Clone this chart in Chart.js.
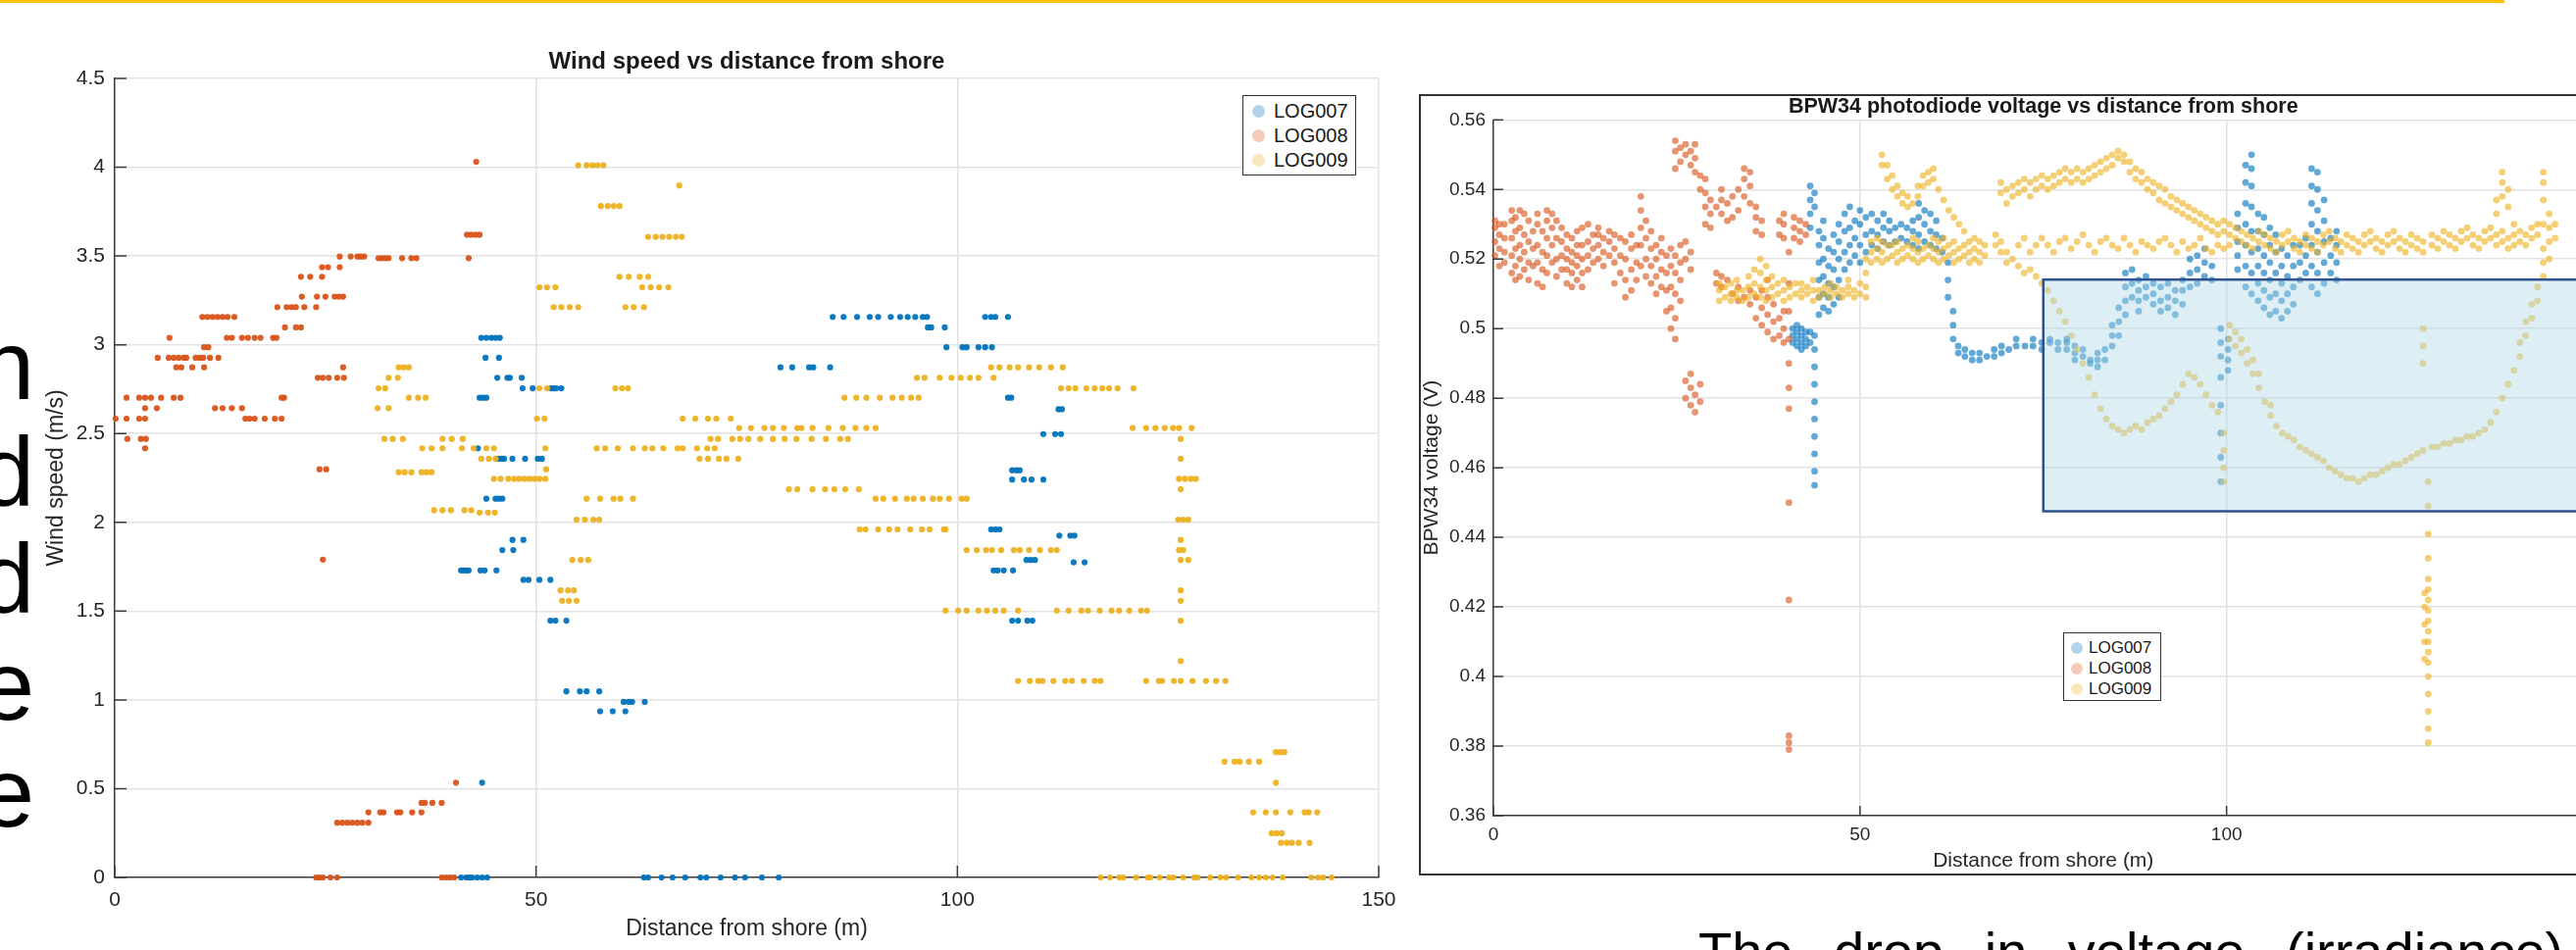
<!DOCTYPE html>
<html>
<head>
<meta charset="utf-8">
<script src="https://cdn.jsdelivr.net/npm/chart.js@4.4.1/dist/chart.umd.min.js"></script>
<style>
    body {
        margin: 0;
        width: 2627px;
        height: 969px;
        overflow: hidden;
        background: #fff;
        position: relative;
        font-family: 'Liberation Sans', Arial, sans-serif;
    }
    #topRule { position: absolute; left: 0; top: 0; width: 2554px; height: 2.5px; background: #ffc000; }
    #sideText {
        position: absolute; left: -165px; top: 318px; width: 200px;
        text-align: right; font-size: 100px; line-height: 109px; color: #000;
    }
    #windChart { position: absolute; left: 0; top: 0; }
    #voltFrame {
        position: absolute; left: 1447px; top: 96px; width: 1300px; height: 793px;
        border: 2px solid #333; border-right: none;
    }
    #voltChart { position: absolute; left: 1449px; top: 98px; }
    .legend {
        position: absolute; background: #fff; border: 1.5px solid #333; box-sizing: border-box;
        color: #1a1a1a;
    }
    .legend .row { display: flex; align-items: center; white-space: nowrap; }
    .legend .dot { display: inline-block; border-radius: 50%; }
    #windLegend { left: 1267px; top: 97px; width: 116px; height: 82px; padding-top: 3px; font-size: 20px; }
    #windLegend .row { height: 25px; }
    #windLegend .dot { width: 13px; height: 13px; margin: 0 9px 0 9px; }
    #voltLegend { left: 2104px; top: 645px; width: 100px; height: 70px; padding-top: 4px; font-size: 17px; }
    #voltLegend .row { height: 21px; }
    #voltLegend .dot { width: 12px; height: 12px; margin: 0 6px 0 7px; }
    #caption {
        position: absolute; left: 1732px; top: 943px; font-size: 56px; line-height: 56px;
        word-spacing: 26px; white-space: nowrap; color: #000;
    }
</style>
</head>
<body>
<div id="topRule"></div>
<div id="sideText">n<br>d<br>d<br>e<br>e</div>
<canvas id="windChart" width="1440" height="969"></canvas>
<div id="voltFrame"></div>
<canvas id="voltChart" width="1231" height="792"></canvas>
<div class="legend" id="windLegend"></div>
<div class="legend" id="voltLegend"></div>
<div id="caption">The drop in voltage (irradiance)</div>

<script>
const seriesNames = ['LOG007', 'LOG008', 'LOG009'];
const seriesRgb = ['0, 114, 189', '217, 83, 25', '237, 177, 32'];

const xTicks = [0, 50, 100, 150];
const windTicks = [0, 0.5, 1, 1.5, 2, 2.5, 3, 3.5, 4, 4.5];
const voltTicks = [0.36, 0.38, 0.4, 0.42, 0.44, 0.46, 0.48, 0.5, 0.52, 0.54, 0.56];

// Wind speed: [speed, [distances...]] (speeds are quantised by the logger)
const windLog007 = [
    [3.039, [43.5, 44.1, 44.7, 45.2, 45.7]],
    [2.927, [44.0, 45.6]],
    [2.814, [45.4, 46.6, 46.9, 48.3]],
    [2.755, [48.4, 49.6, 51.8, 52.1, 52.4, 53.0]],
    [2.702, [43.3, 43.7, 44.1, 106.0, 106.4]],
    [2.417, [43.1]],
    [2.358, [45.5, 45.9, 46.2, 47.2, 48.7, 50.2, 50.7]],
    [2.133, [44.1, 45.2, 45.6, 46.0]],
    [1.901, [47.2, 48.5]],
    [1.844, [46.0, 47.3]],
    [1.729, [41.1, 41.4, 41.7, 42.0, 43.4, 43.9, 45.3, 104.3, 104.8, 105.5, 106.6]],
    [1.676, [48.5, 49.1, 50.4, 51.7]],
    [1.446, [51.7, 52.3, 53.6, 106.5, 107.2, 108.3, 108.9]],
    [1.048, [53.6, 55.2, 56.0, 57.5]],
    [0.989, [60.4, 61.0, 61.4, 62.9]],
    [0.936, [57.6, 59.1, 60.6]],
    [0.534, [43.6]],
    [0, [41.1, 41.7, 42.1, 42.4, 43.0, 43.6, 44.2, 62.8, 63.3, 64.9, 66.2, 67.7, 69.5, 70.2, 71.9, 73.6, 74.8, 76.8, 78.8]],
    [3.157, [85.2, 86.5, 88.1, 89.6, 90.6, 92.1, 93.2, 94.1, 95.0, 95.9, 96.4, 103.3, 104.0, 104.5, 106.0]],
    [3.098, [96.5, 96.9, 98.5]],
    [2.986, [98.7, 100.6, 101.1, 102.5, 103.3, 104.1]],
    [2.873, [79.0, 80.4, 82.4, 82.9, 84.9]],
    [2.637, [112.0, 112.4]],
    [2.497, [110.2, 111.6, 112.3]],
    [2.293, [106.5, 107.0, 107.4]],
    [2.241, [106.5, 107.9, 108.8, 110.2]],
    [1.960, [104.0, 104.5, 105.0]],
    [1.925, [112.1, 113.4, 113.9]],
    [1.788, [108.2, 108.7, 109.2]],
    [1.775, [113.8, 115.1]]
];

const windLog008 = [
    [4.030, [42.9]],
    [3.620, [41.8, 42.3, 42.8, 43.3]],
    [3.497, [26.7, 28.0, 28.8, 29.2, 29.6]],
    [3.488, [31.3, 31.7, 32.1, 32.5, 34.1, 35.2, 35.8, 42.0]],
    [3.437, [24.6, 25.3, 26.7]],
    [3.383, [22.1, 23.2, 24.6]],
    [3.271, [22.2, 24.0, 25.0, 26.1, 26.6, 27.1]],
    [3.212, [19.3, 20.4, 21.0, 21.5, 22.5, 23.9]],
    [3.157, [10.4, 11.0, 11.6, 12.2, 12.8, 13.4, 14.2]],
    [3.098, [20.2, 21.5, 22.1]],
    [3.039, [6.5, 13.3, 13.9, 15.1, 15.8, 16.6, 17.3, 18.8, 19.2]],
    [2.986, [10.6, 11.1]],
    [2.927, [5.1, 6.4, 7.0, 7.6, 8.2, 8.5, 9.6, 10.1, 10.5, 11.3, 12.3]],
    [2.873, [7.3, 7.9, 9.2, 10.6, 27.1]],
    [2.814, [24.1, 24.7, 25.4, 26.4, 27.2]],
    [2.702, [1.4, 2.9, 3.6, 4.3, 5.5, 7.0, 7.8, 19.8, 20.1]],
    [2.643, [3.6, 5.0, 11.9, 12.8, 13.9, 15.1]],
    [2.584, [0.1, 1.4, 2.9, 3.6, 15.5, 16.0, 16.6, 17.8, 19.0, 19.8]],
    [2.470, [1.5, 3.1, 3.7]],
    [2.417, [3.6]],
    [2.299, [24.3, 25.1]],
    [1.790, [24.7]],
    [0.534, [40.5]],
    [0.420, [36.4, 36.8, 37.7, 38.8]],
    [0.367, [30.1, 31.5, 31.9, 33.5, 33.9, 35.3, 36.4]],
    [0.308, [26.4, 27.0, 27.6, 28.2, 28.8, 29.4, 30.1]],
    [0, [23.9, 24.3, 24.7, 25.6, 26.4, 38.8, 39.3, 39.8, 40.3]]
];

const windLog009 = [
    [4.011, [55.0, 56.0, 56.7, 57.3, 58.0]],
    [3.897, [67.0]],
    [3.781, [57.7, 58.5, 59.2, 59.9]],
    [3.608, [63.3, 64.2, 65.0, 65.8, 66.6, 67.3]],
    [3.383, [59.9, 61.0, 62.3, 63.3]],
    [3.324, [50.4, 51.3, 52.3, 62.6, 63.6, 64.6, 65.7]],
    [3.212, [52.1, 53.0, 54.0, 55.0, 60.6, 61.6, 62.8]],
    [2.873, [33.7, 34.3, 34.9, 104.0, 105.0, 106.2, 107.2, 108.5, 109.7, 111.1, 112.5]],
    [2.814, [32.5, 33.6, 95.2, 96.1, 97.9, 99.3, 100.4, 101.5, 102.5, 104.3]],
    [2.755, [31.3, 32.1, 50.4, 51.3, 59.4, 60.2, 60.9, 112.3, 113.2, 114.0, 115.3, 116.3, 117.2, 118.0, 119.0, 120.9]],
    [2.702, [34.9, 36.0, 36.9, 86.6, 88.0, 89.2, 90.8, 92.3, 93.4, 94.5, 95.4]],
    [2.643, [31.2, 32.5]],
    [2.584, [50.1, 51.0, 67.4, 68.9, 70.4, 71.4, 73.1]],
    [2.531, [74.1, 75.5, 77.1, 78.1, 79.4, 81.0, 81.5, 82.8, 84.7, 86.4, 87.9, 89.2, 90.3, 120.8, 122.4, 123.5, 124.6, 125.6, 126.3, 127.8]],
    [2.470, [32.0, 33.0, 34.2, 38.9, 40.0, 41.3, 70.7, 71.6, 73.3, 74.2, 75.2, 76.6, 78.1, 79.5, 80.9, 82.7, 84.4, 86.1, 87.0, 126.5]],
    [2.417, [36.5, 37.6, 38.9, 41.2, 42.6, 44.1, 45.0, 51.1, 57.2, 58.2, 59.7, 61.5, 62.9, 63.8, 65.1, 66.8, 67.4, 69.1, 70.3, 71.2]],
    [2.358, [43.5, 44.4, 45.2, 69.4, 70.4, 71.7, 72.6, 74.0, 126.5]],
    [2.299, [51.2]],
    [2.282, [33.7, 34.4, 35.2, 36.4, 37.0, 37.6]],
    [2.245, [45.0, 45.8, 46.7, 47.4, 48.0, 48.6, 49.2, 49.8, 50.4, 51.1, 126.3, 127.0, 127.7, 128.3]],
    [2.186, [80.0, 81.0, 82.8, 84.3, 85.4, 86.7, 88.3, 126.5]],
    [2.133, [56.0, 57.6, 59.2, 60.0, 61.5, 90.3, 91.2, 92.6, 94.0, 94.8, 95.9, 97.1, 97.9, 99.0, 100.5, 101.1]],
    [2.068, [37.9, 38.9, 39.9, 41.5, 42.3]],
    [2.055, [43.3, 44.3, 45.1]],
    [2.015, [54.8, 55.8, 56.8, 57.5, 126.2, 126.8, 127.4]],
    [1.960, [88.4, 89.1, 90.6, 91.9, 92.9, 94.4, 95.8, 96.7, 98.4, 98.6]],
    [1.901, [126.5]],
    [1.844, [101.1, 102.3, 103.4, 104.1, 105.2, 106.7, 107.4, 108.5, 109.8, 111.1, 111.8, 126.3, 126.8]],
    [1.788, [54.3, 55.3, 56.2, 126.5, 127.4]],
    [1.617, [52.9, 53.8, 54.5, 126.5]],
    [1.558, [53.1, 53.9, 54.8, 126.5]],
    [1.503, [98.6, 100.1, 101.1, 102.5, 103.5, 104.5, 105.5, 107.2, 111.8, 113.2, 114.7, 115.5, 116.9, 118.3, 119.2, 120.4, 121.8, 122.5]],
    [1.446, [126.5]],
    [1.219, [126.5]],
    [1.107, [107.2, 108.6, 109.6, 110.1, 111.4, 112.8, 113.6, 115.0, 116.3, 117.0, 122.4, 123.9, 124.3, 125.7, 126.5, 127.9, 129.5, 130.7, 131.8]],
    [0.706, [137.8, 138.3, 138.8]],
    [0.652, [131.7, 132.9, 133.5, 134.6, 135.8]],
    [0.534, [137.8]],
    [0.367, [135.1, 136.6, 137.8, 139.5, 141.2, 141.7, 142.7]],
    [0.249, [137.3, 137.9, 138.5]],
    [0.195, [138.4, 139.1, 139.7, 140.5, 141.8]],
    [0, [117.0, 118.1, 119.2, 119.7, 121.2, 122.6, 122.9, 124.0, 125.1, 125.6, 126.8, 128.1, 128.5, 130.0, 131.2, 131.9, 133.3, 134.9, 135.8, 136.6, 137.4, 138.6, 142.0, 142.8, 143.4, 144.4]]
];

// Photodiode voltage: [distance, [voltages...]]
const voltLog007 = [
    [40.8, [0.496, 0.498, 0.500]], [41.4, [0.495, 0.497, 0.499, 0.501]], [42.0, [0.494, 0.496, 0.498, 0.500]],
    [42.6, [0.495, 0.497, 0.499]], [43.2, [0.496, 0.499, 0.529, 0.533, 0.537, 0.541]],
    [43.8, [0.455, 0.459, 0.464, 0.469, 0.474, 0.479, 0.484, 0.489, 0.494, 0.498, 0.535, 0.539]],
    [44.4, [0.504, 0.509, 0.514, 0.519, 0.524, 0.528]], [45.0, [0.506, 0.510, 0.515, 0.520, 0.526, 0.531]],
    [45.7, [0.505, 0.509, 0.513, 0.518, 0.523]], [46.4, [0.507, 0.512, 0.517, 0.522, 0.527]],
    [47.1, [0.509, 0.514, 0.520, 0.525, 0.530]], [47.9, [0.517, 0.522, 0.528, 0.533]],
    [48.6, [0.519, 0.524, 0.529, 0.535]], [49.3, [0.521, 0.526, 0.531]], [50.0, [0.519, 0.524, 0.530, 0.534]],
    [50.8, [0.522, 0.527, 0.532]], [51.6, [0.524, 0.528, 0.533]], [52.4, [0.523, 0.527, 0.531]],
    [53.2, [0.525, 0.529, 0.533]], [54.0, [0.524, 0.528, 0.531]], [54.8, [0.525, 0.529]],
    [55.6, [0.526, 0.530]], [56.4, [0.525, 0.529]], [57.2, [0.524, 0.528, 0.531]],
    [58.0, [0.523, 0.527, 0.532, 0.536]], [58.8, [0.525, 0.530, 0.534]], [59.6, [0.524, 0.528, 0.533]],
    [60.4, [0.523, 0.527, 0.531]], [61.2, [0.522, 0.526]], [62.0, [0.509, 0.514, 0.519]],
    [62.7, [0.497, 0.501, 0.505]], [63.4, [0.493, 0.495]], [64.3, [0.492, 0.494]], [65.3, [0.491, 0.493]],
    [66.3, [0.491, 0.493]], [67.3, [0.492]], [68.3, [0.492, 0.494]], [69.3, [0.493, 0.495]], [70.3, [0.494]],
    [71.3, [0.495, 0.497]], [72.5, [0.495]], [73.6, [0.495, 0.497]], [74.8, [0.494, 0.496]],
    [75.9, [0.496, 0.497]], [77.0, [0.494, 0.496]], [78.2, [0.494, 0.496, 0.497]], [79.3, [0.491, 0.493, 0.495]],
    [80.4, [0.492, 0.494]], [81.4, [0.490, 0.491]], [82.4, [0.489, 0.491, 0.493]], [83.4, [0.491, 0.494]],
    [84.4, [0.495, 0.498, 0.501]], [85.3, [0.498, 0.502, 0.506]], [86.2, [0.504, 0.508, 0.512, 0.516]],
    [87.1, [0.509, 0.513, 0.517]], [88.0, [0.505, 0.508, 0.511, 0.514]], [89.0, [0.509, 0.512, 0.515]],
    [90.0, [0.507, 0.510, 0.513]], [91.0, [0.505, 0.508, 0.512]], [92.0, [0.506, 0.509, 0.513]],
    [93.0, [0.504, 0.508, 0.511]], [94.0, [0.507, 0.511, 0.514]], [95.0, [0.512, 0.516, 0.520]],
    [96.0, [0.513, 0.517, 0.521]], [97.0, [0.515, 0.519, 0.523]], [98.0, [0.514, 0.518]],
    [99.2, [0.456, 0.463, 0.470, 0.478, 0.486, 0.492, 0.496, 0.500]], [100.2, [0.488, 0.491, 0.494, 0.497]],
    [101.5, [0.517, 0.521, 0.525, 0.529, 0.533]], [102.6, [0.512, 0.518, 0.524, 0.530, 0.536, 0.542, 0.547]],
    [103.4, [0.510, 0.516, 0.522, 0.528, 0.535, 0.541, 0.546, 0.550]], [104.3, [0.508, 0.513, 0.518, 0.523, 0.528, 0.533]],
    [105.1, [0.506, 0.511, 0.516, 0.521, 0.527, 0.532]], [105.9, [0.504, 0.509, 0.514, 0.519, 0.524, 0.529]],
    [106.7, [0.505, 0.510, 0.516, 0.522, 0.527]], [107.5, [0.503, 0.508, 0.513, 0.518, 0.523]],
    [108.3, [0.505, 0.510, 0.515, 0.521]], [109.1, [0.507, 0.512, 0.518, 0.524]], [110.0, [0.514, 0.519, 0.524]],
    [110.8, [0.516, 0.521, 0.526]], [111.6, [0.512, 0.518, 0.524, 0.530, 0.536, 0.541, 0.546]],
    [112.4, [0.510, 0.516, 0.522, 0.528, 0.534, 0.540, 0.545]], [113.3, [0.513, 0.519, 0.525, 0.531, 0.537]],
    [114.2, [0.516, 0.521, 0.526]], [115.0, [0.514, 0.519, 0.524, 0.528]]
];

const voltLog008 = [
    [0.2, [0.521, 0.525, 0.529, 0.531]], [0.8, [0.518, 0.523, 0.527, 0.530]], [1.5, [0.519, 0.522, 0.526, 0.530]],
    [2.5, [0.516, 0.521, 0.526, 0.531, 0.534]], [3.0, [0.514, 0.518, 0.523, 0.528, 0.532]],
    [3.6, [0.515, 0.520, 0.524, 0.529, 0.534]], [4.2, [0.517, 0.522, 0.527, 0.533]], [4.8, [0.514, 0.519, 0.525, 0.531]],
    [5.4, [0.518, 0.523, 0.528]], [6.0, [0.513, 0.519, 0.524, 0.530, 0.533]], [6.7, [0.512, 0.517, 0.522, 0.528]],
    [7.3, [0.516, 0.521, 0.526, 0.531, 0.534]], [8.0, [0.519, 0.524, 0.529, 0.533]], [8.6, [0.515, 0.520, 0.526, 0.531]],
    [9.3, [0.517, 0.521, 0.525, 0.529]], [10.0, [0.513, 0.517, 0.520, 0.523, 0.527]],
    [10.7, [0.512, 0.516, 0.519, 0.522, 0.526]], [11.4, [0.514, 0.518, 0.521, 0.524, 0.528]],
    [12.1, [0.512, 0.516, 0.520, 0.524, 0.529]], [12.9, [0.517, 0.521, 0.525, 0.530]], [13.6, [0.519, 0.523, 0.527]],
    [14.3, [0.520, 0.524, 0.527, 0.529]], [15.0, [0.518, 0.522, 0.526]], [15.8, [0.521, 0.525, 0.528]],
    [16.5, [0.513, 0.519, 0.523, 0.527]], [17.3, [0.516, 0.521, 0.526]], [18.0, [0.509, 0.514, 0.520, 0.525]],
    [18.8, [0.511, 0.517, 0.523, 0.527]], [19.5, [0.514, 0.519, 0.524]], [20.1, [0.518, 0.524, 0.529, 0.534, 0.538]],
    [20.8, [0.515, 0.520, 0.526, 0.531]], [21.5, [0.513, 0.518, 0.523, 0.528]], [22.2, [0.510, 0.515, 0.520, 0.524]],
    [22.9, [0.512, 0.517, 0.522, 0.526]], [23.6, [0.505, 0.511, 0.516, 0.521]],
    [24.2, [0.500, 0.506, 0.512, 0.518, 0.523]], [24.8, [0.497, 0.503, 0.510, 0.516, 0.521, 0.546, 0.551, 0.554]],
    [25.5, [0.508, 0.514, 0.519, 0.524, 0.548, 0.552]], [26.2, [0.480, 0.485, 0.520, 0.525, 0.550, 0.553]],
    [26.9, [0.478, 0.483, 0.487, 0.517, 0.522, 0.547, 0.551]], [27.5, [0.476, 0.481, 0.545, 0.549, 0.553]],
    [28.2, [0.479, 0.484, 0.540, 0.544]], [28.9, [0.530, 0.535, 0.539, 0.543]], [29.6, [0.529, 0.533, 0.537]],
    [30.4, [0.513, 0.516, 0.535]], [31.1, [0.512, 0.515, 0.533, 0.537, 0.540]], [31.9, [0.514, 0.531, 0.536]],
    [32.6, [0.510, 0.532, 0.538]], [33.4, [0.508, 0.512, 0.534, 0.540]], [34.2, [0.509, 0.538, 0.543, 0.546]],
    [35.0, [0.507, 0.511, 0.536, 0.541, 0.545]], [35.8, [0.503, 0.509, 0.528, 0.532, 0.535]],
    [36.6, [0.501, 0.506, 0.511, 0.527, 0.531]], [37.4, [0.499, 0.504, 0.509, 0.514]], [38.2, [0.497, 0.502, 0.507]],
    [39.0, [0.498, 0.503, 0.527, 0.531]], [39.6, [0.496, 0.500, 0.505, 0.526, 0.530, 0.533]],
    [40.3, [0.379, 0.381, 0.383, 0.422, 0.450, 0.477, 0.483, 0.490, 0.497, 0.505, 0.513, 0.522]],
    [41.0, [0.526, 0.529, 0.532]], [41.8, [0.525, 0.528, 0.531]], [42.6, [0.527, 0.530]]
];

const voltLog009 = [
    [30.8, [0.508, 0.511, 0.513]], [31.6, [0.509, 0.512]], [32.4, [0.508, 0.510, 0.513]], [33.2, [0.509, 0.511, 0.514]],
    [34.0, [0.508, 0.511]], [34.8, [0.509, 0.512, 0.515]], [35.6, [0.510, 0.513, 0.517]], [36.4, [0.509, 0.512, 0.516, 0.520]],
    [37.2, [0.508, 0.511, 0.514, 0.518]], [38.0, [0.509, 0.512, 0.515]], [38.8, [0.510, 0.513]], [39.6, [0.508, 0.511, 0.514]],
    [40.4, [0.509, 0.512]], [41.2, [0.510, 0.513]], [42.0, [0.509, 0.511, 0.513]], [42.8, [0.510, 0.512]],
    [43.6, [0.508, 0.511, 0.514]], [44.4, [0.509, 0.511]], [45.2, [0.510, 0.512]], [46.0, [0.509, 0.511, 0.513]],
    [46.8, [0.510, 0.512]], [47.6, [0.509, 0.511]], [48.4, [0.510, 0.512, 0.514]], [49.2, [0.509, 0.511]],
    [50.0, [0.510, 0.513]], [50.8, [0.509, 0.512, 0.516, 0.520]], [51.5, [0.519, 0.522, 0.525]],
    [52.3, [0.520, 0.523, 0.526]], [53.0, [0.519, 0.522, 0.525, 0.547, 0.550]], [53.7, [0.520, 0.524, 0.543, 0.547]],
    [54.4, [0.521, 0.524, 0.540, 0.544]], [55.1, [0.519, 0.522, 0.525, 0.538, 0.541]], [55.8, [0.520, 0.523, 0.536, 0.539]],
    [56.5, [0.521, 0.524, 0.535, 0.538]], [57.2, [0.520, 0.523, 0.526, 0.536]], [57.9, [0.519, 0.522, 0.525, 0.538, 0.541]],
    [58.6, [0.520, 0.523, 0.541, 0.544]], [59.3, [0.521, 0.524, 0.542, 0.545]], [60.0, [0.520, 0.523, 0.526, 0.543, 0.546]],
    [60.7, [0.519, 0.522, 0.525, 0.540]], [61.4, [0.520, 0.523, 0.526, 0.537]], [62.1, [0.521, 0.524, 0.534]],
    [62.8, [0.519, 0.522, 0.525, 0.532]], [63.5, [0.520, 0.523, 0.530]], [64.2, [0.521, 0.524, 0.528]],
    [64.9, [0.519, 0.522, 0.525]], [65.6, [0.520, 0.523, 0.526]], [66.3, [0.519, 0.522, 0.525]], [67.0, [0.521, 0.524]],
    [68.5, [0.524, 0.527]], [69.2, [0.522, 0.525, 0.539, 0.542]], [70.0, [0.519, 0.522, 0.536, 0.540]],
    [70.8, [0.520, 0.538, 0.541]], [71.6, [0.518, 0.524, 0.539, 0.542]], [72.4, [0.516, 0.526, 0.540, 0.543]],
    [73.2, [0.517, 0.522, 0.538, 0.542]], [74.0, [0.515, 0.524, 0.540, 0.543]], [74.8, [0.513, 0.526, 0.541, 0.544]],
    [75.6, [0.511, 0.524, 0.540, 0.543]], [76.4, [0.508, 0.522, 0.541, 0.544]], [77.2, [0.505, 0.525, 0.542, 0.545]],
    [78.0, [0.502, 0.526, 0.543, 0.546]], [78.8, [0.498, 0.523, 0.542, 0.545]], [79.6, [0.494, 0.525, 0.543, 0.546]],
    [80.4, [0.490, 0.527, 0.542, 0.545]], [81.2, [0.486, 0.524, 0.543, 0.546]], [82.0, [0.481, 0.522, 0.544, 0.547]],
    [82.8, [0.477, 0.525, 0.545, 0.548]], [83.6, [0.474, 0.526, 0.546, 0.549]], [84.4, [0.472, 0.524, 0.547, 0.550]],
    [85.2, [0.471, 0.523, 0.549, 0.551]], [86.0, [0.470, 0.526, 0.548, 0.550]], [86.8, [0.471, 0.524, 0.545, 0.548]],
    [87.6, [0.472, 0.522, 0.543, 0.546]], [88.4, [0.471, 0.525, 0.542, 0.545]], [89.2, [0.473, 0.524, 0.540, 0.543]],
    [90.0, [0.474, 0.523, 0.539, 0.542]], [90.8, [0.475, 0.525, 0.537, 0.541]], [91.6, [0.477, 0.526, 0.536, 0.540]],
    [92.4, [0.479, 0.524, 0.535, 0.538]], [93.2, [0.481, 0.522, 0.534, 0.537]], [94.0, [0.484, 0.525, 0.533, 0.536]],
    [94.8, [0.487, 0.523, 0.532, 0.535]], [95.6, [0.486, 0.524, 0.531, 0.534]], [96.4, [0.484, 0.526, 0.530, 0.533]],
    [97.2, [0.481, 0.523, 0.529, 0.532]], [98.0, [0.478, 0.522, 0.528, 0.531]], [98.8, [0.476, 0.524, 0.527, 0.530]],
    [99.6, [0.456, 0.460, 0.465, 0.470, 0.523, 0.528, 0.531]], [100.4, [0.497, 0.501, 0.524, 0.527, 0.530]],
    [101.2, [0.495, 0.499, 0.526, 0.529]], [102.0, [0.493, 0.497, 0.525, 0.528]], [102.8, [0.490, 0.494, 0.524, 0.527]],
    [103.6, [0.487, 0.491, 0.523, 0.526]], [104.4, [0.483, 0.487, 0.525, 0.528]], [105.2, [0.479, 0.524, 0.527]],
    [106.0, [0.475, 0.478, 0.523, 0.526]], [106.8, [0.472, 0.522, 0.525]], [107.6, [0.470, 0.524, 0.527]],
    [108.4, [0.469, 0.525, 0.528]], [109.2, [0.468, 0.523, 0.526]], [110.0, [0.466, 0.522, 0.525]],
    [110.8, [0.465, 0.524, 0.527]], [111.6, [0.464, 0.523, 0.526]], [112.4, [0.463, 0.522, 0.525]],
    [113.2, [0.462, 0.524, 0.527]], [114.0, [0.460, 0.525, 0.528]], [114.8, [0.459, 0.523, 0.526]],
    [115.6, [0.458, 0.522, 0.525]], [116.4, [0.457, 0.524, 0.527]], [117.2, [0.457, 0.523, 0.526]],
    [118.0, [0.456, 0.522, 0.525]], [118.8, [0.457, 0.524, 0.527]], [119.6, [0.458, 0.525, 0.528]],
    [120.4, [0.458, 0.523, 0.526]], [121.2, [0.459, 0.522, 0.525]], [122.0, [0.460, 0.524, 0.527]],
    [122.8, [0.461, 0.525, 0.528]], [123.6, [0.461, 0.523, 0.526]], [124.4, [0.462, 0.522, 0.525]],
    [125.2, [0.463, 0.524, 0.527]], [126.0, [0.464, 0.523, 0.526]], [126.8, [0.465, 0.490, 0.495, 0.500, 0.522, 0.525]],
    [127.0, [0.405, 0.410, 0.415, 0.420, 0.424]],
    [127.5, [0.381, 0.385, 0.390, 0.395, 0.400, 0.404, 0.407, 0.410, 0.413, 0.416, 0.419, 0.422, 0.425, 0.428, 0.434, 0.441, 0.449, 0.456]],
    [128.0, [0.466, 0.524, 0.527]], [128.8, [0.466, 0.523, 0.526]], [129.6, [0.467, 0.525, 0.528]],
    [130.4, [0.467, 0.524, 0.527]], [131.2, [0.468, 0.523, 0.526]], [132.0, [0.468, 0.525, 0.528]],
    [132.8, [0.469, 0.526, 0.529]], [133.6, [0.469, 0.524, 0.527]], [134.4, [0.470, 0.523, 0.526]],
    [135.2, [0.471, 0.525, 0.528]], [136.0, [0.473, 0.526, 0.529]], [136.8, [0.476, 0.524, 0.527, 0.533, 0.537]],
    [137.6, [0.480, 0.525, 0.528, 0.538, 0.542, 0.545]], [138.4, [0.484, 0.523, 0.526, 0.535, 0.540]],
    [139.2, [0.488, 0.524, 0.527, 0.530]], [140.0, [0.492, 0.496, 0.525, 0.528]], [140.8, [0.498, 0.502, 0.524, 0.527]],
    [141.6, [0.503, 0.507, 0.526, 0.529]], [142.4, [0.508, 0.512, 0.527, 0.530]],
    [143.2, [0.515, 0.519, 0.523, 0.530, 0.537, 0.542, 0.545]], [144.0, [0.520, 0.525, 0.529, 0.533]], [144.8, [0.526, 0.530]]
];

// Highlight drawn on the slide over the voltage plot (data units)
const highlightBox = { xFrom: 75, xTo: 170, yFrom: 0.4475, yTo: 0.5141 };

const fromRows = rows => rows.flatMap(([y, xs]) => xs.map(x => ({ x, y })));
const fromCols = cols => cols.flatMap(([x, ys]) => ys.map(y => ({ x, y })));
const fmt = v => String(Number(v.toFixed(2)));
const FONT = "'Liberation Sans', Arial, sans-serif";

// MATLAB style: short tick marks pointing into the plot
const innerTicks = {
    id: 'innerTicks',
    afterDatasetsDraw(chart, args, opts) {
        const { ctx, chartArea: a, scales: { x, y } } = chart;
        ctx.save();
        ctx.strokeStyle = '#3c3c3c';
        ctx.lineWidth = 1.5;
        ctx.beginPath();
        x.ticks.forEach(t => {
            const px = x.getPixelForValue(t.value);
            ctx.moveTo(px, a.bottom);
            ctx.lineTo(px, a.bottom - opts.len);
        });
        y.ticks.forEach(t => {
            const py = y.getPixelForValue(t.value);
            ctx.moveTo(a.left, py);
            ctx.lineTo(a.left + opts.len, py);
        });
        ctx.stroke();
        ctx.restore();
    }
};

const highlight = {
    id: 'highlight',
    afterDatasetsDraw(chart, args, opts) {
        if (!opts.box) return;
        const { ctx, scales: { x, y } } = chart;
        const b = opts.box;
        const x1 = x.getPixelForValue(b.xFrom), x2 = x.getPixelForValue(b.xTo);
        const y1 = y.getPixelForValue(b.yTo), y2 = y.getPixelForValue(b.yFrom);
        ctx.save();
        ctx.fillStyle = 'rgba(173, 216, 230, 0.42)';
        ctx.fillRect(x1, y1, x2 - x1, y2 - y1);
        ctx.strokeStyle = '#2f528f';
        ctx.lineWidth = 2.5;
        ctx.strokeRect(x1, y1, x2 - x1, y2 - y1);
        ctx.restore();
    }
};

function buildDatasets(sets, alpha, radius) {
    return sets.map((data, i) => ({
        label: seriesNames[i],
        data,
        order: 3 - i,
        pointRadius: radius,
        pointBorderWidth: 0,
        backgroundColor: 'rgba(' + seriesRgb[i] + ', ' + alpha + ')',
        borderColor: 'rgba(' + seriesRgb[i] + ', ' + alpha + ')',
        clip: false
    }));
}

function makeChart(canvas, cfg) {
    return new Chart(canvas, {
        type: 'scatter',
        data: { datasets: buildDatasets(cfg.sets, cfg.alpha, cfg.radius) },
        options: {
            responsive: false,
            animation: false,
            events: [],
            layout: { padding: { left: 0, right: cfg.padRight, top: 0, bottom: 0 } },
            plugins: {
                legend: { display: false },
                tooltip: { enabled: false },
                title: {
                    display: true,
                    text: cfg.title,
                    fullSize: false,
                    color: '#1a1a1a',
                    font: { family: FONT, size: cfg.titleSize, weight: 'bold', lineHeight: cfg.titleLH },
                    padding: cfg.titlePad
                },
                innerTicks: { len: cfg.tickLen },
                highlight: { box: cfg.box }
            },
            scales: {
                x: {
                    type: 'linear',
                    min: 0,
                    max: 150,
                    afterBuildTicks: s => { s.ticks = xTicks.map(v => ({ value: v })); },
                    afterFit: s => { s.height = cfg.xHeight; },
                    grid: { color: '#e2e2e2', lineWidth: 1.5, drawTicks: false },
                    border: { display: true, color: '#3c3c3c', width: 1.5 },
                    ticks: { color: '#262626', padding: cfg.xTickPad, maxRotation: 0, font: { family: FONT, size: cfg.tickSize }, callback: fmt },
                    title: {
                        display: true, text: 'Distance from shore (m)', color: '#262626',
                        font: { family: FONT, size: cfg.axisSize, lineHeight: cfg.axisLH },
                        padding: { top: 0, bottom: cfg.xTitlePad }
                    }
                },
                y: {
                    type: 'linear',
                    min: cfg.yTicks[0],
                    max: cfg.yTicks[cfg.yTicks.length - 1],
                    afterBuildTicks: s => { s.ticks = cfg.yTicks.map(v => ({ value: v })); },
                    afterFit: s => { s.width = cfg.yWidth; },
                    grid: { color: '#e2e2e2', lineWidth: 1.5, drawTicks: false },
                    border: { display: true, color: '#3c3c3c', width: 1.5 },
                    ticks: { color: '#262626', padding: cfg.yTickPad, font: { family: FONT, size: cfg.tickSize }, callback: fmt },
                    title: {
                        display: true, text: cfg.yTitle, color: '#262626',
                        font: { family: FONT, size: cfg.axisSize, lineHeight: cfg.axisLH },
                        padding: { top: cfg.yTitlePad, bottom: 0 }
                    }
                }
            }
        },
        plugins: [innerTicks, highlight]
    });
}

makeChart(document.getElementById('windChart'), {
    sets: [fromRows(windLog007), fromRows(windLog008), fromRows(windLog009)],
    alpha: 0.95, radius: 3.1,
    title: 'Wind speed vs distance from shore', titleSize: 24, titleLH: 1.2,
    titlePad: { top: 48.6, bottom: 2.6 },
    yTicks: windTicks, yTitle: 'Wind speed (m/s)',
    padRight: 34, yWidth: 117, xHeight: 74,
    tickSize: 21, axisSize: 23, axisLH: 1.2,
    xTickPad: 10.4, yTickPad: 10, xTitlePad: 7.2, yTitlePad: 44, tickLen: 12,
    box: null
});

makeChart(document.getElementById('voltChart'), {
    sets: [fromCols(voltLog007), fromCols(voltLog008), fromCols(voltLog009)],
    alpha: 0.62, radius: 3.4,
    title: 'BPW34 photodiode voltage vs distance from shore', titleSize: 21.5, titleLH: 1,
    titlePad: { top: 0, bottom: 2.8 },
    yTicks: voltTicks, yTitle: 'BPW34 voltage (V)',
    padRight: 35.5, yWidth: 74, xHeight: 58,
    tickSize: 19, axisSize: 21, axisLH: 1,
    xTickPad: 8.6, yTickPad: 8, xTitlePad: 1.5, yTitlePad: 0.5, tickLen: 10,
    box: highlightBox
});

// HTML legends (pale marker swatches, like the MATLAB legend)
function fillLegend(id) {
    const el = document.getElementById(id);
    seriesNames.forEach((name, i) => {
        const row = document.createElement('div');
        row.className = 'row';
        const dot = document.createElement('span');
        dot.className = 'dot';
        dot.style.background = 'rgba(' + seriesRgb[i] + ', 0.3)';
        row.appendChild(dot);
        row.appendChild(document.createTextNode(name));
        el.appendChild(row);
    });
}
fillLegend('windLegend');
fillLegend('voltLegend');
</script>
</body>
</html>
